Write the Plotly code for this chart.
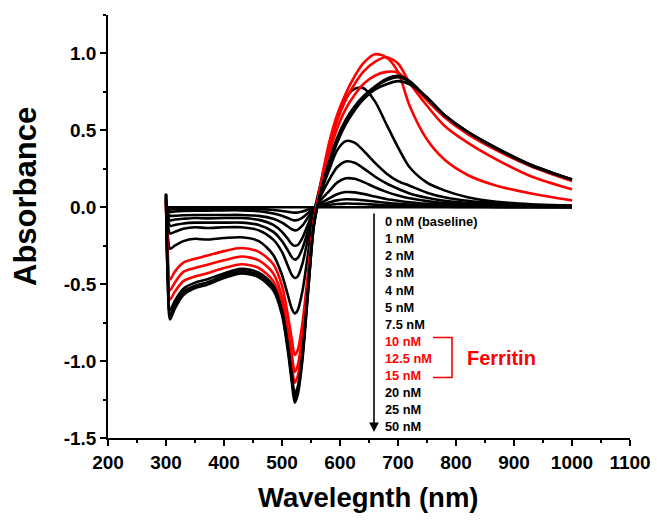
import plotly.graph_objects as go

# Wavelength sample points (nm)
wavelength = [300, 303, 307, 315, 330, 350, 370, 400, 430, 460, 485, 500, 510, 517, 522, 527,
              535, 545, 555, 565, 580, 595, 610, 625, 640, 660, 680, 700, 720, 750, 780, 820,
              870, 930, 1000]

# Absorbance values (one list per spectrum)
abs_0nM = [0.0] * 35
abs_low_a = [0.01, -0.01, -0.014, -0.012, -0.011, -0.01, -0.01, -0.01, -0.01, -0.012, -0.018, -0.024, -0.03,
             -0.034, -0.035, -0.034, -0.028, -0.015, -0.002, 0.006, 0.014, 0.021, 0.024, 0.023, 0.021, 0.017,
             0.013, 0.01, 0.008, 0.005, 0.004, 0.002, 0.001, 0.001, 0.0]
abs_1nM = [0.015, -0.02, -0.03, -0.027, -0.024, -0.022, -0.022, -0.02, -0.02, -0.026, -0.04, -0.055, -0.07,
           -0.081, -0.085, -0.083, -0.068, -0.037, -0.006, 0.012, 0.03, 0.045, 0.052, 0.051, 0.046, 0.037,
           0.029, 0.022, 0.017, 0.012, 0.008, 0.005, 0.003, 0.002, 0.001]
abs_2nM = [0.02, -0.035, -0.055, -0.055, -0.052, -0.05, -0.05, -0.05, -0.05, -0.056, -0.075, -0.10, -0.125,
           -0.143, -0.15, -0.147, -0.12, -0.065, -0.01, 0.022, 0.055, 0.085, 0.099, 0.097, 0.087, 0.07,
           0.054, 0.042, 0.032, 0.022, 0.015, 0.01, 0.006, 0.004, 0.002]
abs_3nM = [0.03, -0.05, -0.085, -0.08, -0.075, -0.07, -0.072, -0.07, -0.07, -0.082, -0.115, -0.16, -0.205,
           -0.24, -0.25, -0.245, -0.20, -0.11, -0.015, 0.04, 0.10, 0.16, 0.188, 0.185, 0.165, 0.13,
           0.10, 0.077, 0.058, 0.04, 0.027, 0.018, 0.011, 0.007, 0.004]
abs_4nM = [0.04, -0.07, -0.12, -0.115, -0.105, -0.10, -0.10, -0.10, -0.10, -0.115, -0.16, -0.22, -0.28,
           -0.325, -0.34, -0.33, -0.27, -0.15, -0.02, 0.06, 0.17, 0.26, 0.298, 0.29, 0.255, 0.20,
           0.155, 0.12, 0.09, 0.062, 0.042, 0.028, 0.017, 0.01, 0.006]
abs_5nM = [0.05, -0.10, -0.17, -0.16, -0.14, -0.13, -0.135, -0.13, -0.13, -0.15, -0.21, -0.29, -0.38,
           -0.44, -0.46, -0.45, -0.37, -0.20, -0.03, 0.08, 0.23, 0.37, 0.43, 0.42, 0.37, 0.29,
           0.22, 0.17, 0.14, 0.095, 0.065, 0.042, 0.026, 0.016, 0.01]
abs_7_5nM = [0.06, -0.18, -0.27, -0.25, -0.22, -0.205, -0.21, -0.20, -0.195, -0.22, -0.31, -0.44, -0.57,
             -0.66, -0.69, -0.67, -0.55, -0.30, -0.04, 0.13, 0.37, 0.57, 0.71, 0.77, 0.775, 0.69,
             0.54, 0.39, 0.26, 0.16, 0.11, 0.065, 0.035, 0.02, 0.012]
abs_10nM = [0.04, -0.30, -0.47, -0.42, -0.36, -0.335, -0.315, -0.285, -0.265, -0.29, -0.37, -0.51, -0.70,
            -0.86, -0.96, -0.93, -0.76, -0.42, -0.09, 0.12, 0.40, 0.60, 0.74, 0.85, 0.935, 0.995,
            0.975, 0.88, 0.66, 0.44, 0.31, 0.21, 0.14, 0.09, 0.045]
abs_12_5nM = [0.035, -0.36, -0.54, -0.49, -0.42, -0.395, -0.375, -0.345, -0.32, -0.345, -0.43, -0.58, -0.79,
              -0.96, -1.07, -1.03, -0.84, -0.46, -0.09, 0.10, 0.36, 0.56, 0.70, 0.80, 0.88, 0.945,
              0.975, 0.935, 0.81, 0.66, 0.53, 0.42, 0.31, 0.20, 0.117]
abs_15nM = [0.03, -0.40, -0.60, -0.55, -0.48, -0.45, -0.43, -0.395, -0.37, -0.395, -0.48, -0.63, -0.85,
            -1.03, -1.14, -1.10, -0.90, -0.49, -0.09, 0.09, 0.33, 0.51, 0.64, 0.73, 0.80, 0.855,
            0.88, 0.875, 0.81, 0.695, 0.585, 0.475, 0.37, 0.265, 0.17]
abs_20nM = [0.08, -0.44, -0.67, -0.61, -0.53, -0.49, -0.47, -0.43, -0.40, -0.425, -0.51, -0.67, -0.89,
            -1.09, -1.21, -1.17, -0.96, -0.53, -0.11, 0.07, 0.28, 0.45, 0.57, 0.655, 0.72, 0.785,
            0.835, 0.855, 0.82, 0.71, 0.60, 0.49, 0.385, 0.275, 0.18]
abs_25nM = [0.085, -0.46, -0.70, -0.635, -0.55, -0.51, -0.49, -0.445, -0.415, -0.44, -0.525, -0.685, -0.91,
            -1.115, -1.24, -1.195, -0.98, -0.54, -0.115, 0.075, 0.27, 0.435, 0.555, 0.645, 0.71, 0.78,
            0.825, 0.845, 0.815, 0.71, 0.60, 0.49, 0.385, 0.275, 0.18]
abs_50nM = [0.09, -0.48, -0.73, -0.66, -0.57, -0.525, -0.505, -0.46, -0.43, -0.455, -0.54, -0.70, -0.93,
            -1.14, -1.27, -1.22, -1.0, -0.55, -0.12, 0.07, 0.26, 0.42, 0.54, 0.63, 0.70, 0.765,
            0.80, 0.82, 0.80, 0.715, 0.60, 0.49, 0.38, 0.27, 0.18]

spectra = [abs_0nM, abs_low_a, abs_1nM, abs_2nM, abs_3nM, abs_4nM, abs_5nM, abs_7_5nM,
           abs_10nM, abs_12_5nM, abs_15nM, abs_20nM, abs_25nM, abs_50nM]
is_ferritin = [False] * 8 + [True] * 3 + [False] * 3

legend_labels = ["0 nM (baseline)", "1 nM", "2 nM", "3 nM", "4 nM", "5 nM", "7.5 nM",
                 "10 nM", "12.5 nM", "15 nM", "20 nM", "25 nM", "50 nM"]
legend_red = [False] * 7 + [True] * 3 + [False] * 3

x_tickvals = [200, 300, 400, 500, 600, 700, 800, 900, 1000, 1100]
y_tickvals = [-1.5, -1.0, -0.5, 0.0, 0.5, 1.0]
y_ticktext = ["-1.5", "-1.0", "-0.5", "0.0", "0.5", "1.0"]

FONT = "Liberation Sans"
W, H = 657, 521
L, R, T, B = 108, 27, 15, 83
pw, ph = W - L - R, H - T - B


def px_to_paper(px, py):
    return (px - L) / pw, (H - B - py) / ph


fig = go.Figure()
for vals, red in zip(spectra, is_ferritin):
    fig.add_trace(go.Scatter(
        x=wavelength, y=vals, mode="lines",
        line=dict(color="#ff0000" if red else "#000000", width=2.6, shape="spline", smoothing=0.8),
        showlegend=False, hoverinfo="skip"))

annotations = []
for i, (lab, red) in enumerate(zip(legend_labels, legend_red)):
    xp, yp = px_to_paper(383, 221.7 + i * 17.08)
    annotations.append(dict(
        x=xp, y=yp, xref="paper", yref="paper", text=lab, showarrow=False,
        xanchor="left", yanchor="middle",
        font=dict(family=FONT, size=12.8, weight="bold", color="#ff0000" if red else "#000000")))

# arrow
hx, hy = px_to_paper(374, 432)
annotations.append(dict(x=hx, y=hy, xref="paper", yref="paper", text="", showarrow=True,
                        ax=0, ay=-220, axref="pixel", ayref="pixel",
                        arrowhead=2, arrowsize=1.2, arrowwidth=1.6, arrowcolor="#000000"))
# Ferritin label
fx, fy = px_to_paper(465, 358)
annotations.append(dict(x=fx, y=fy, xref="paper", yref="paper", text="Ferritin", showarrow=False,
                        xanchor="left", yanchor="middle",
                        font=dict(family=FONT, size=20, weight="bold", color="#ff0000")))

# axis titles
tx, ty = px_to_paper(368, 497)
annotations.append(dict(x=tx, y=ty, xref="paper", yref="paper", text="Wavelegnth (nm)", showarrow=False,
                        xanchor="center", yanchor="middle",
                        font=dict(family=FONT, size=27.5, weight="bold", color="#000000")))
yx, yy = px_to_paper(26, 197)
annotations.append(dict(x=yx, y=yy, xref="paper", yref="paper", text="Absorbance", showarrow=False,
                        xanchor="center", yanchor="middle", textangle=-90,
                        font=dict(family=FONT, size=31, weight="bold", color="#000000")))

bx0, by0 = px_to_paper(433, 337.5)
bx1, by1 = px_to_paper(452, 377.5)
shapes = [dict(type="path", xref="paper", yref="paper",
               path=f"M {bx0},{by0} L {bx1},{by0} L {bx1},{by1} L {bx0},{by1}",
               line=dict(color="#ff0000", width=1.6))]

axis_common = dict(showline=True, linecolor="#000000", linewidth=1.5, ticks="outside",
                   ticklen=6, tickwidth=1.5, tickcolor="#000000", showgrid=False, zeroline=False,
                   mirror=False,
                   tickfont=dict(family=FONT, size=19, weight="bold", color="#000000"))

fig.update_layout(
    width=W, height=H,
    margin=dict(l=L, r=R, t=T, b=B, autoexpand=False),
    paper_bgcolor="white", plot_bgcolor="white",
    xaxis=dict(range=[200, 1100], tickvals=x_tickvals,
               minor=dict(ticks="outside", ticklen=3, tickwidth=1.5, dtick=50, tick0=200, tickcolor="#000000"),
               **axis_common),
    yaxis=dict(range=[-1.5, 1.25], tickvals=y_tickvals, ticktext=y_ticktext,
               minor=dict(ticks="outside", ticklen=3, tickwidth=1.5, dtick=0.25, tick0=-1.5, tickcolor="#000000"),
               **axis_common),
    annotations=annotations, shapes=shapes,
)

fig.write_html("out.html")
